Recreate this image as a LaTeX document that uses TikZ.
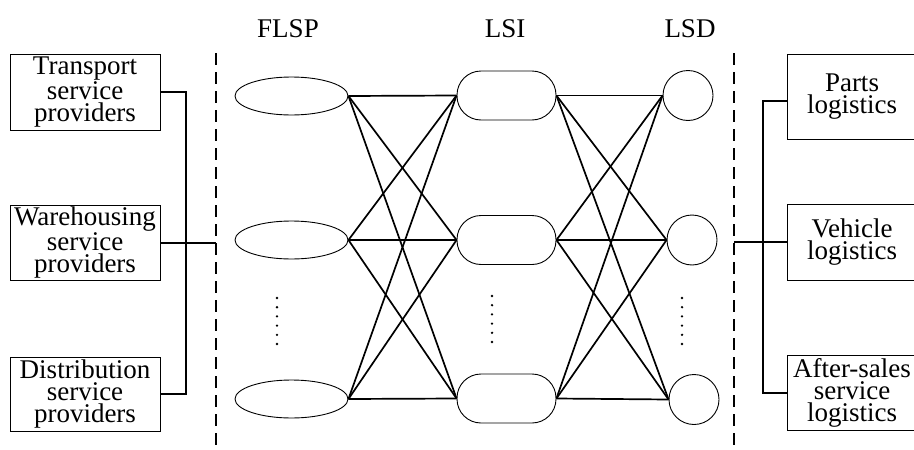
\documentclass[tikz,border=0pt]{standalone}
\usepackage{fontspec}
\setmainfont{Liberation Serif}
\newfontfamily\tms{Liberation Serif}
\usetikzlibrary{shapes.geometric}
\begin{document}
\begin{tikzpicture}[x=1pt,y=-1pt,
  txt/.style={font=\tms\fontsize{27}{22}\selectfont, align=center, inner sep=0pt},
  lbox/.style={txt, draw, line width=0.9pt, minimum width=150pt},
  rbox/.style={txt, draw, line width=0.9pt, minimum width=130pt},
  flsp/.style={draw, ellipse, line width=0.9pt, minimum width=113pt, minimum height=38pt, inner sep=0pt},
  lsi/.style={draw, rectangle, rounded corners=24pt, line width=0.9pt, minimum width=99pt, minimum height=49pt, inner sep=0pt},
  lsd/.style={draw, circle, line width=0.9pt, minimum size=50pt, inner sep=0pt},
  link/.style={line width=1.7pt},
  bracket/.style={line width=2pt},
  divider/.style={line width=1.4pt, dash pattern=on 12pt off 7pt},
  head/.style={font=\tms\fontsize{27}{27}\selectfont, inner sep=0pt}
]
\useasboundingbox (0,0) rectangle (914,450);

% headings
\node[head] (hF) at (288,29) {FLSP};
\node[head] (hI) at (505,29) {LSI};
\node[head] (hD) at (690,29) {LSD};

% left boxes
\node[lbox, minimum height=76pt] (tr) at (85,92) {Transport\\service\\providers};
\node[lbox, minimum height=75pt] (wh) at (85,242.5) {Warehousing\\service\\providers};
\node[lbox, minimum height=74pt] (di) at (85,394) {Distribution\\service\\providers};

% right boxes
\node[rbox, minimum height=85pt] (pa) at (852,96.5) {Parts\\logistics};
\node[rbox, minimum height=76pt] (ve) at (852,242) {Vehicle\\logistics};
\node[rbox, minimum height=75pt] (as) at (852,392.5) {After-sales\\service\\logistics};

% dividers
\coordinate (dlt) at (216,53);
\coordinate (dlb) at (216,447);
\coordinate (drt) at (734,53);
\coordinate (drb) at (734,447);
\draw[divider] (dlt) -- (dlb);
\draw[divider] (drt) -- (drb);

% FLSP ellipses
\node[flsp] (f1) at (291.5,96) {};
\node[flsp] (f2) at (291.5,240) {};
\node[flsp] (f3) at (291.5,399) {};
% LSI rounded boxes
\node[lsi] (i1) at (506.5,95.5) {};
\node[lsi] (i2) at (506.5,240) {};
\node[lsi] (i3) at (506.5,398.5) {};
% LSD circles
\node[lsd] (d1) at (688,95.5) {};
\node[lsd] (d2) at (692,240) {};
\node[lsd] (d3) at (694,399.5) {};

% links
\foreach \a in {1,2,3}{
  \foreach \b in {1,2,3}{
    \draw[link] (f\a.east) -- (i\b.west);
    \draw[link] (i\a.east) -- (d\b.west);
  }
}

% dots
\foreach \x/\y in {277/298, 492/296, 682/298}{
  \foreach \k in {0,...,5}{
    \fill (\x,\y+\k*9.2) circle (1.3pt);
  }
}

% left bracket
\coordinate (wj) at (216,242.5);
\draw[bracket] (tr.east) -| (186,394) -- (di.east);
\draw[bracket] (wh.east) -- (wj);

% right bracket
\coordinate (vj) at (734,242);
\draw[bracket] ([yshift=-4.5pt]pa.west) -| (763,392.5) -- (as.west);
\draw[bracket] (vj) -- (ve.west);
\end{tikzpicture}
\end{document}
